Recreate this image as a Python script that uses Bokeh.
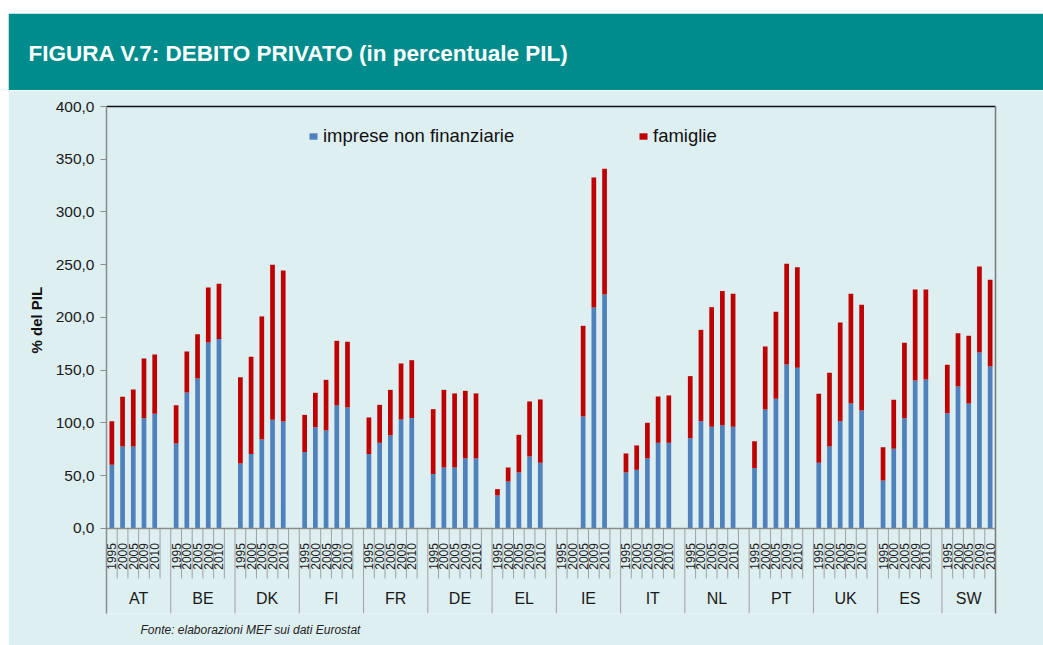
import math
from bokeh.plotting import figure
from bokeh.models import (Range1d, FixedTicker, LinearAxis, Legend, LegendItem,
                          Title, ColumnDataSource, Span)
from bokeh.layouts import column
from bokeh.core.properties import value
from bokeh.embed import file_html
from bokeh.resources import INLINE

# ---------------- data ----------------
countries = ["AT", "BE", "DK", "FI", "FR", "DE", "EL", "IE", "IT", "NL", "PT", "UK", "ES", "SW"]
years = ["1995", "2000", "2005", "2009", "2010"]

imprese = {
    "AT": [60.4, 77.7, 77.7, 104.6, 108.7],
    "BE": [80.6, 128.9, 142.2, 176.3, 179.5],
    "DK": [61.6, 70.5, 84.4, 103.0, 101.4],
    "FI": [72.4, 96.0, 92.9, 116.6, 114.7],
    "FR": [70.5, 81.2, 88.2, 103.3, 104.6],
    "DE": [51.5, 57.8, 57.8, 66.4, 66.4],
    "EL": [31.3, 44.5, 53.1, 68.2, 62.3],
    "IE": [None, None, 106.2, 209.5, 221.8],
    "IT": [53.1, 55.6, 66.4, 81.2, 81.2],
    "NL": [85.6, 101.7, 96.4, 97.9, 96.4],
    "PT": [57.2, 112.8, 122.9, 155.5, 152.3],
    "UK": [62.3, 77.7, 101.7, 118.5, 111.8],
    "ES": [45.5, 75.5, 104.6, 140.3, 141.2],
    "SW": [109.3, 134.6, 118.5, 166.8, 153.6],
}
famiglie = {
    "AT": [41.3, 47.1, 54.1, 56.5, 56.2],
    "BE": [36.3, 38.9, 42.0, 52.1, 52.4],
    "DK": [81.8, 92.2, 116.6, 146.9, 143.1],
    "FI": [35.3, 32.6, 48.0, 61.3, 62.3],
    "FR": [34.7, 36.0, 43.2, 53.1, 54.9],
    "DE": [61.6, 73.6, 70.2, 64.1, 61.6],
    "EL": [6.0, 13.3, 35.7, 52.2, 60.0],
    "IE": [None, None, 85.9, 123.2, 119.1],
    "IT": [18.0, 23.1, 33.8, 43.9, 44.9],
    "NL": [58.8, 86.6, 113.4, 127.1, 126.0],
    "PT": [25.5, 59.7, 82.5, 95.4, 95.4],
    "UK": [65.3, 69.9, 93.6, 103.9, 100.2],
    "ES": [31.6, 46.5, 71.4, 86.2, 85.3],
    "SW": [45.9, 50.5, 64.1, 81.5, 82.1],
}
y_ticks = [0, 50, 100, 150, 200, 250, 300, 350, 400]
y_tick_labels = ["0,0", "50,0", "100,0", "150,0", "200,0", "250,0", "300,0", "350,0", "400,0"]

title_text = "FIGURA V.7: DEBITO PRIVATO (in percentuale PIL)"
y_title = "% del PIL"
source_note = "Fonte: elaborazioni MEF sui dati Eurostat"
series_names = ["imprese non finanziarie", "famiglie"]

# ---------------- styling ----------------
TEAL = "#008C8C"
BG = "#DEEFF1"
BLUE = "#4F81BD"
RED = "#C00000"
FONT = "Liberation Sans"
W = 1035

SLOTS_PER_GROUP = 6  # 5 years + a blank slot between countries
n_slots = SLOTS_PER_GROUP * (len(countries) - 1) + len(years)

# ---------------- header ----------------
hdr = figure(width=W, height=77, x_range=Range1d(0, 1), y_range=Range1d(0, 1),
             x_axis_type=None, y_axis_type=None, toolbar_location=None,
             output_backend="svg", min_border_left=0, min_border_right=0,
             min_border_bottom=0, min_border_top=52)
hdr.background_fill_color = TEAL
hdr.border_fill_color = TEAL
hdr.outline_line_color = TEAL
hdr.outline_line_width = 3
hdr.margin = (13, 0, 0, 8)
hdr.title.text = title_text
hdr.title.text_color = "white"
hdr.title.text_font = FONT
hdr.title.text_font_style = "bold"
hdr.title.text_font_size = "22.5px"
hdr.title.align = "left"
hdr.title.offset = -78
hdr.title.standoff = 0

# ---------------- main chart ----------------
y0 = -80.6
p = figure(width=W, height=555, x_range=Range1d(0, n_slots), y_range=Range1d(y0, 400),
           toolbar_location=None, output_backend="svg", x_axis_type=None,
           min_border_left=98, min_border_right=48, min_border_top=16, min_border_bottom=32)
p.margin = (0, 0, 0, 8)
p.background_fill_color = BG
p.border_fill_color = BG
p.outline_line_color = None
p.grid.visible = False

yax = p.yaxis[0]
yax.ticker = FixedTicker(ticks=y_ticks)
yax.major_label_overrides = {t: l for t, l in zip(y_ticks, y_tick_labels)}
yax.axis_line_color = "#8c8c8c"
yax.axis_line_width = 1.5
yax.major_tick_line_color = "#8c8c8c"
yax.major_tick_in = 0
yax.major_tick_out = 6
yax.minor_tick_line_color = None
yax.major_label_standoff = 6
yax.major_label_text_font = FONT
yax.major_label_text_font_size = "15.5px"
yax.major_label_text_color = "#1a1a1a"

for side, col in (("above", "#111111"), ("right", "#7a7a7a")):
    ax = LinearAxis(ticker=FixedTicker(ticks=[]), axis_line_color=col, axis_line_width=1.5,
                    major_tick_out=0, major_tick_in=0, minor_tick_out=0, minor_tick_in=0,
                    major_label_standoff=0, axis_label_standoff=0,
                    major_label_text_font_size="0px")
    p.add_layout(ax, side)

# y title (left) and source note (below)
p.add_layout(Title(text=y_title, align="left", offset=260, standoff=15,
                   text_font=FONT, text_font_style="bold", text_font_size="15px",
                   text_color="#111111"), "left")
p.add_layout(Title(text=source_note, align="left", offset=34, standoff=15,
                   text_font=FONT, text_font_style="italic", text_font_size="12px",
                   text_color="#222222"), "below")

# bars
xs, imp_top, tot_top = [], [], []
for g, c in enumerate(countries):
    for j, yr in enumerate(years):
        a = imprese[c][j]
        b = famiglie[c][j]
        if a is None:
            continue
        xs.append(g * SLOTS_PER_GROUP + j + 0.5)
        imp_top.append(a)
        tot_top.append(a + b)
src = ColumnDataSource(dict(x=xs, imp=imp_top, tot=tot_top))
r_blue = p.vbar(x="x", top="imp", bottom=0, width=0.44, source=src,
                fill_color=BLUE, line_color=None)
r_red = p.vbar(x="x", top="tot", bottom="imp", width=0.44, source=src,
               fill_color=RED, line_color=None)

# category axis (drawn below the zero line inside the frame)
p.add_layout(Span(location=0, dimension="width", line_color="#8c8c8c", line_width=1.5))
tick_x, tick_y1 = [], []
for k in range(n_slots + 1):
    is_group = (k % SLOTS_PER_GROUP == 0) or k == n_slots
    tick_x.append(k)
    tick_y1.append(y0 if is_group else -47.4)
p.segment(x0=tick_x, y0=[0] * len(tick_x), x1=tick_x, y1=tick_y1,
          line_color="#a0a0a0", line_width=1)

lab_x, lab_t = [], []
for g, c in enumerate(countries):
    for j, yr in enumerate(years):
        lab_x.append(g * SLOTS_PER_GROUP + j + 0.5)
        lab_t.append(yr)
p.text(x=lab_x, y=[-26.5] * len(lab_x), text=lab_t, angle=math.pi / 2,
       text_align="center", text_baseline="middle", text_font=value(FONT),
       text_font_size="12px", text_color="#1a1a1a")

grp_x = []
for g, c in enumerate(countries):
    n = SLOTS_PER_GROUP if g < len(countries) - 1 else len(years)
    grp_x.append(g * SLOTS_PER_GROUP + n / 2)
p.text(x=grp_x, y=[-66.4] * len(grp_x), text=countries, text_align="center",
       text_baseline="middle", text_font=value(FONT), text_font_size="16px",
       text_color="#1a1a1a")

# legends
for r, name, loc in ((r_blue, series_names[0], (202, 466)), (r_red, series_names[1], (532, 466))):
    lg = Legend(items=[LegendItem(label=name, renderers=[r])], location=loc,
                orientation="horizontal", background_fill_alpha=0, border_line_alpha=0,
                glyph_width=10, glyph_height=8, label_standoff=5, padding=0, margin=0,
                label_text_font=FONT, label_text_font_size="18.5px",
                label_text_color="#111111")
    p.add_layout(lg)

layout = column(hdr, p, spacing=0)
open("out.html", "w").write(file_html(layout, INLINE))
